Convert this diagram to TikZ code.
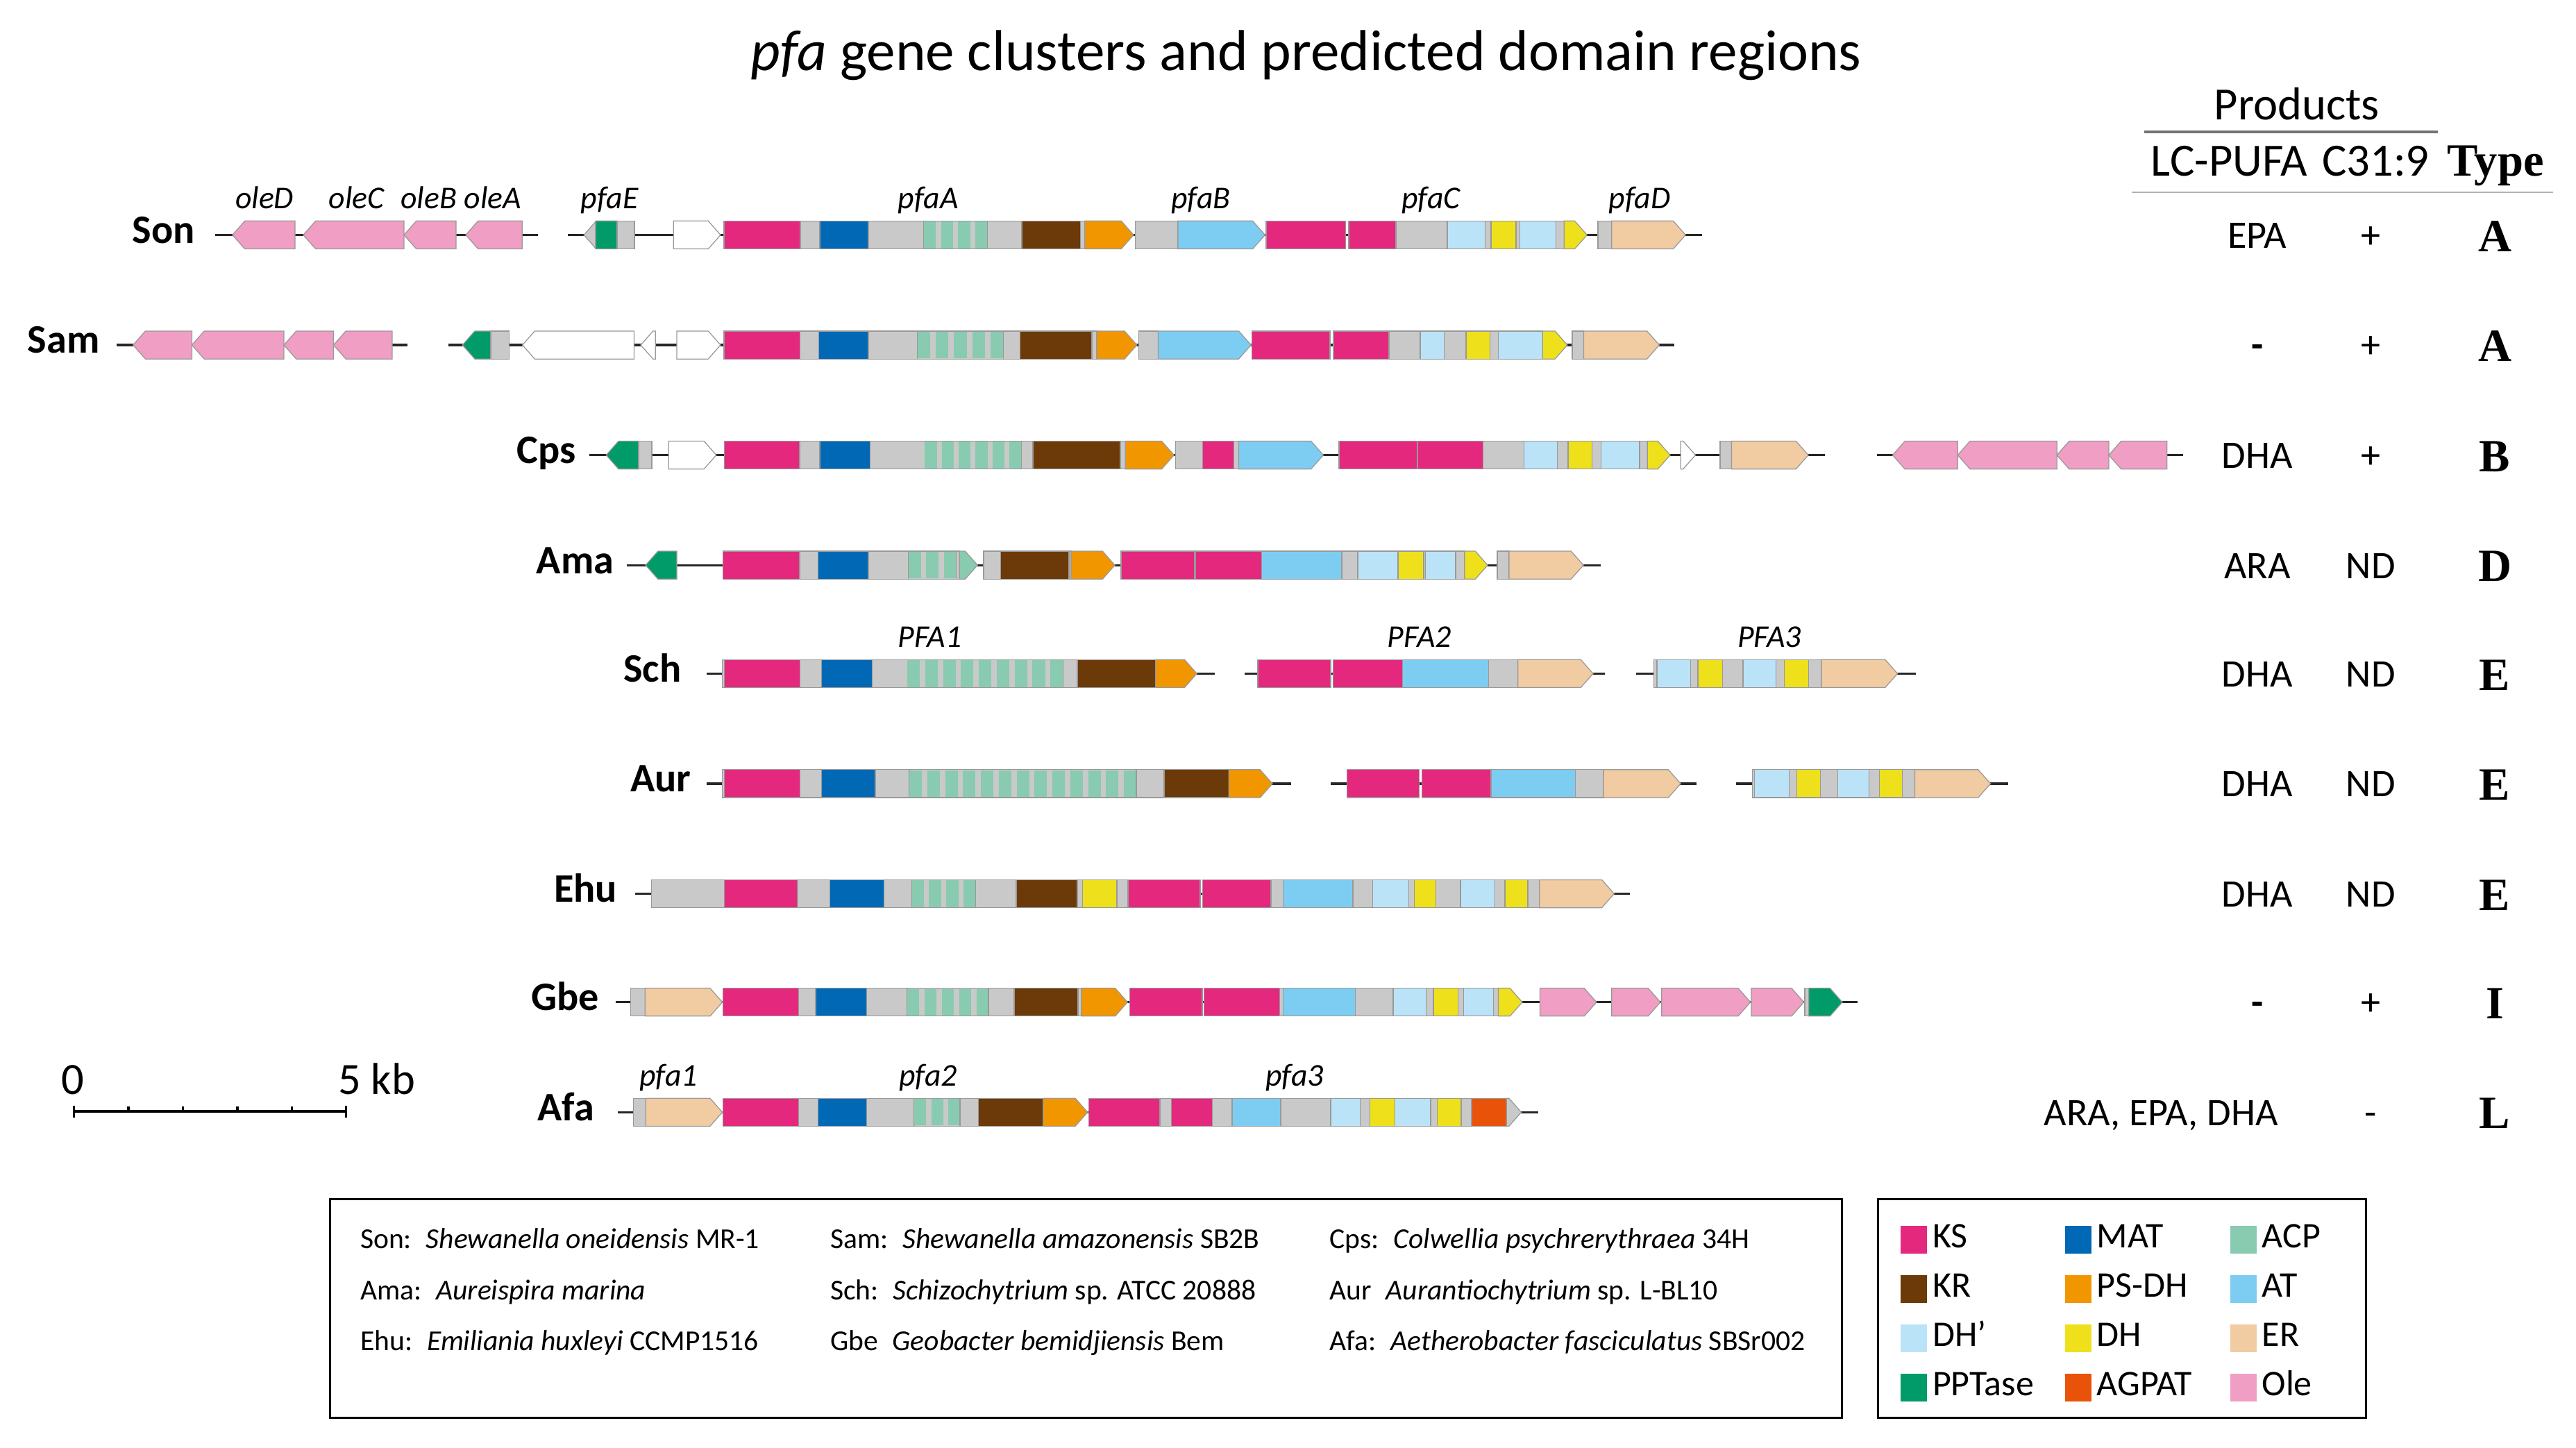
\documentclass[tikz,border=0pt]{standalone}
\usepackage{fontspec}
\setmainfont{Carlito}
\newfontfamily\typefont{Liberation Serif}
\definecolor{cKS}{RGB}{228,40,125}
\definecolor{cMAT}{RGB}{0,104,181}
\definecolor{cACP}{RGB}{136,203,176}
\definecolor{cKR}{RGB}{107,58,8}
\definecolor{cPSDH}{RGB}{242,150,0}
\definecolor{cAT}{RGB}{125,205,243}
\definecolor{cDHp}{RGB}{186,227,247}
\definecolor{cDH}{RGB}{238,225,27}
\definecolor{cER}{RGB}{241,203,162}
\definecolor{cPPT}{RGB}{0,155,105}
\definecolor{cAGPAT}{RGB}{232,83,9}
\definecolor{cOle}{RGB}{240,158,195}
\definecolor{cGrey}{RGB}{200,201,200}
\newcommand{\hh}{8.5}
\newcommand{\tip}{7.5}
\newcommand{\rowy}{0}
% one domain block
\newcommand{\dom}[3]{
	\filldraw[dbox,fill=#3] (#1,\rowy-\hh) rectangle (#2,\rowy+\hh);
	}
% last block of a gene, pointing right
\newcommand{\rtip}[3]{
	\filldraw[dbox,fill=#3] (#1,\rowy-\hh) -- (#2-\tip,\rowy-\hh) -- (#2,\rowy) -- (#2-\tip,\rowy+\hh) -- (#1,\rowy+\hh) -- cycle;
	}
% first block of a gene, pointing left
\newcommand{\ltip}[3]{
	\filldraw[dbox,fill=#3] (#1,\rowy) -- (#1+\tip,\rowy-\hh) -- (#2,\rowy-\hh) -- (#2,\rowy+\hh) -- (#1+\tip,\rowy+\hh) -- cycle;
	}
% ACP repeats
\newcommand{\acp}[3]{
	\filldraw[dbox,fill=cGrey] (#1,\rowy-\hh) rectangle (#2,\rowy+\hh);
	\pgfmathsetmacro{\acpstep}{(#2-#1)/(#3-0.3)}
	\foreach \kk in {1,...,#3}{
		\fill[cACP] ({#1+(\kk-1)*\acpstep},\rowy-\hh+0.4) rectangle ({#1+(\kk-0.3)*\acpstep},\rowy+\hh-0.4);
	}
	}
\newcommand{\bb}[2]{
	\draw[backbone] (#1,\rowy) -- (#2,\rowy);
	}
\newcommand{\key}[5]{
	\fill[#3] (#1-8,#2-8.5) rectangle (#1+8,#2+8.5);
	\node[keytxt] (key-#4) at (#1+11,#2+5) {#5};
	}
\begin{document}
\begin{tikzpicture}[
      x=0.2mm, y=-0.2mm,
      dbox/.style={draw=black!40, line width=0.3pt},
      backbone/.style={draw=black!85, line width=0.8pt},
      org/.style={font=\fontsize{14}{16}\selectfont\bfseries, anchor=base east, inner sep=0pt},
      gname/.style={font=\fontsize{11}{13}\selectfont\itshape, anchor=base, inner sep=0pt},
      val/.style={font=\fontsize{13.5}{16}\selectfont, anchor=base, inner sep=0pt},
      typ/.style={font=\fontsize{16}{18}\selectfont\typefont\bfseries, anchor=base, inner sep=0pt},
      spc/.style={font=\fontsize{10}{12}\selectfont, anchor=base west, inner sep=0pt},
      keytxt/.style={font=\fontsize{12.5}{14}\selectfont, anchor=base west, inner sep=0pt}
    ]
    \useasboundingbox (0,0) rectangle (1568,881);
    %Title
    \node[font=\fontsize{20}{24}\selectfont, anchor=base, inner sep=0pt] (title) at (795,43) {\textit{pfa} gene clusters and predicted domain regions};
    % Son
    \renewcommand{\rowy}{143}
    \bb{131}{327.5} \bb{345.6}{1036}
    \ltip{141.5}{179.6}{cOle} \ltip{184.6}{245.9}{cOle} \ltip{245.9}{277.6}{cOle} \ltip{283.5}{317.8}{cOle}
    \ltip{355.4}{375.6}{cGrey} \dom{362.5}{375.6}{cPPT} \dom{375.6}{386.2}{cGrey}
    \rtip{410}{438.6}{white}
    \dom{440.7}{487.2}{cKS} \dom{487.2}{499}{cGrey} \dom{499}{528.6}{cMAT} \dom{528.6}{562.4}{cGrey} \acp{562.4}{601}{4}
    \dom{601}{622}{cGrey} \dom{622}{657.5}{cKR} \dom{657.5}{660.4}{cGrey} \rtip{660.4}{690}{cPSDH}
    \dom{691}{717}{cGrey} \rtip{717}{770}{cAT}
    \dom{770.7}{818.9}{cKS} \dom{821}{849.7}{cKS} \dom{849.7}{881}{cGrey} \dom{881}{904}{cDHp} \dom{904}{907.6}{cGrey}
    \dom{907.6}{922.8}{cDH} \dom{922.8}{925}{cGrey} \dom{925}{947}{cDHp} \dom{947}{952}{cGrey} \rtip{952}{966}{cDH}
    \dom{972.6}{981}{cGrey} \rtip{981}{1026}{cER}
    \node[org] (son) at (119,148) {Son};
    \node[gname] (son-oleD) at (161,127) {oleD};
    \node[gname] (son-oleC) at (217,127) {oleC};
    \node[gname] (son-oleB) at (261,127) {oleB};
    \node[gname] (son-oleA) at (300,127) {oleA};
    \node[gname] (son-pfaE) at (371,127) {pfaE};
    \node[gname] (son-pfaA) at (565,127) {pfaA};
    \node[gname] (son-pfaB) at (731,127) {pfaB};
    \node[gname] (son-pfaC) at (871,127) {pfaC};
    \node[gname] (son-pfaD) at (998,127) {pfaD};
    % Sam
    \renewcommand{\rowy}{210}
    \bb{71}{248} \bb{273}{1019}
    \ltip{81}{116.8}{cOle} \ltip{116.8}{172.8}{cOle} \ltip{172.8}{203}{cOle} \ltip{203}{238.7}{cOle}
    \ltip{281.5}{298.7}{cPPT} \dom{298.7}{309.8}{cGrey}
    \ltip{318}{386}{white} \ltip{390}{399}{white} \rtip{412}{438.6}{white}
    \dom{440.7}{487}{cKS} \dom{487}{498.5}{cGrey} \dom{498.5}{528.6}{cMAT} \dom{528.6}{558.5}{cGrey} \acp{558.5}{610.6}{5}
    \dom{610.6}{620.8}{cGrey} \dom{620.8}{664.6}{cKR} \dom{664.6}{667.6}{cGrey} \rtip{667.6}{692}{cPSDH}
    \dom{693}{705}{cGrey} \rtip{705}{761.5}{cAT}
    \dom{762}{809.6}{cKS} \dom{811.7}{845.5}{cKS} \dom{845.5}{864.5}{cGrey} \dom{864.5}{879}{cDHp} \dom{879}{892.4}{cGrey}
    \dom{892.4}{906.8}{cDH} \dom{906.8}{912}{cGrey} \dom{912}{939}{cDHp} \rtip{939}{954}{cDH}
    \dom{957}{964}{cGrey} \rtip{964}{1010}{cER}
    \node[org] (sam) at (61,215) {Sam};
    % Cps
    \renewcommand{\rowy}{277}
    \bb{358.7}{1111} \bb{1142.6}{1329}
    \ltip{369}{388.7}{cPPT} \dom{388.7}{396.8}{cGrey}
    \rtip{407}{436}{white}
    \dom{441}{486.7}{cKS} \dom{486.7}{499}{cGrey} \dom{499}{529.5}{cMAT} \dom{529.5}{563}{cGrey} \acp{563}{621.6}{6}
    \dom{621.6}{628.7}{cGrey} \dom{628.7}{682}{cKR} \dom{682}{685}{cGrey} \rtip{685}{714.6}{cPSDH}
    \dom{715.5}{731.9}{cGrey} \dom{731.9}{751}{cKS} \dom{751}{754}{cGrey} \rtip{754}{805.5}{cAT}
    \dom{815}{862.5}{cKS} \dom{863}{902.6}{cKS} \dom{902.6}{927.5}{cGrey} \dom{927.5}{948}{cDHp} \dom{948}{954.5}{cGrey}
    \dom{954.5}{969}{cDH} \dom{969}{974.4}{cGrey} \dom{974.4}{998}{cDHp} \dom{998}{1002.7}{cGrey} \rtip{1002.7}{1016.6}{cDH}
    \rtip{1023}{1032}{white}
    \dom{1047}{1054}{cGrey} \rtip{1054}{1100.7}{cER}
    \ltip{1152}{1191.6}{cOle} \ltip{1191.6}{1252}{cOle} \ltip{1252}{1283.6}{cOle} \ltip{1283.6}{1319}{cOle}
    \node[org] (cps) at (351,282) {Cps};
    % Ama
    \renewcommand{\rowy}{344}
    \bb{381.6}{974.4}
    \ltip{393}{412}{cPPT}
    \dom{440}{486.7}{cKS} \dom{486.7}{497.8}{cGrey} \dom{497.8}{528.6}{cMAT} \dom{528.6}{553}{cGrey} \acp{553}{582}{3}
    \dom{582}{584}{cGrey} \rtip{584}{595}{cACP}
    \dom{598.7}{609}{cGrey} \dom{609}{650.7}{cKR} \dom{650.7}{652}{cGrey} \rtip{652}{678.6}{cPSDH}
    \dom{682.4}{726.8}{cKS} \dom{727.6}{768}{cKS} \dom{768}{816.7}{cAT} \dom{816.7}{826.5}{cGrey} \dom{826.5}{851}{cDHp}
    \dom{851}{866.6}{cDH} \dom{866.6}{867.6}{cGrey} \dom{867.6}{886}{cDHp} \dom{886}{891.5}{cGrey} \rtip{891.5}{905.5}{cDH}
    \dom{911.4}{918.6}{cGrey} \rtip{918.6}{963.8}{cER}
    \node[org] (ama) at (374,349) {Ama};
    % Sch
    \renewcommand{\rowy}{410}
    \bb{430}{739.5} \bb{757.6}{977} \bb{996}{1166}
    \dom{439.5}{441}{cGrey} \dom{441}{487}{cKS} \dom{487}{500}{cGrey} \dom{500}{530.8}{cMAT} \dom{530.8}{552.3}{cGrey} \acp{552.3}{647}{9}
    \dom{647}{655.8}{cGrey} \dom{655.8}{703.5}{cKR} \rtip{703.5}{728.5}{cPSDH}
    \dom{765.6}{810}{cKS} \dom{811.6}{853.7}{cKS} \dom{853.7}{906}{cAT} \dom{906}{924}{cGrey} \rtip{924}{969.7}{cER}
    \dom{1006.6}{1008.6}{cGrey} \dom{1008.6}{1029}{cDHp} \dom{1029}{1033.5}{cGrey} \dom{1033.5}{1048.4}{cDH} \dom{1048.4}{1061}{cGrey}
    \dom{1061}{1081}{cDHp} \dom{1081}{1086}{cGrey} \dom{1086}{1101}{cDH} \dom{1101}{1108.7}{cGrey} \rtip{1108.7}{1155}{cER}
    \node[org] (sch) at (415,415) {Sch};
    \node[gname] (sch-pfa1) at (566,394) {PFA1};
    \node[gname] (sch-pfa2) at (864,394) {PFA2};
    \node[gname] (sch-pfa3) at (1077,394) {PFA3};
    % Aur
    \renewcommand{\rowy}{477}
    \bb{430}{786} \bb{810}{1032.6} \bb{1056.6}{1222.5}
    \dom{439.5}{441}{cGrey} \dom{441}{487}{cKS} \dom{487}{500}{cGrey} \dom{500}{532.8}{cMAT} \dom{532.8}{553.5}{cGrey} \acp{553.5}{691.7}{13}
    \dom{691.7}{708.6}{cGrey} \dom{708.6}{748}{cKR} \rtip{748}{774.5}{cPSDH}
    \dom{820}{863.7}{cKS} \dom{865.6}{907.6}{cKS} \dom{907.6}{959}{cAT} \dom{959}{976}{cGrey} \rtip{976}{1023}{cER}
    \dom{1066.5}{1068}{cGrey} \dom{1068}{1089}{cDHp} \dom{1089}{1093.6}{cGrey} \dom{1093.6}{1108}{cDH} \dom{1108}{1118.5}{cGrey}
    \dom{1118.5}{1137.5}{cDHp} \dom{1137.5}{1144}{cGrey} \dom{1144}{1158}{cDH} \dom{1158}{1165.5}{cGrey} \rtip{1165.5}{1211.6}{cER}
    \node[org] (aur) at (421,482) {Aur};
    % Ehu
    \renewcommand{\rowy}{544}
    \bb{386.4}{992}
    \dom{396.4}{441}{cGrey} \dom{441}{485.5}{cKS} \dom{485.5}{505}{cGrey} \dom{505}{538}{cMAT} \dom{538}{555}{cGrey} \acp{555}{594}{4}
    \dom{594}{618.6}{cGrey} \dom{618.6}{655.8}{cKR} \dom{655.8}{658.8}{cGrey} \dom{658.8}{679.8}{cDH} \dom{679.8}{686.6}{cGrey}
    \dom{686.6}{730.5}{cKS} \dom{732}{773.6}{cKS} \dom{773.6}{781}{cGrey} \dom{781}{823.5}{cAT} \dom{823.5}{835.5}{cGrey}
    \dom{835.5}{857.4}{cDHp} \dom{857.4}{861}{cGrey} \dom{861}{874}{cDH} \dom{874}{889}{cGrey} \dom{889}{910}{cDHp}
    \dom{910}{916}{cGrey} \dom{916}{930}{cDH} \dom{930}{937}{cGrey} \rtip{937}{982.5}{cER}
    \node[org] (ehu) at (376,549) {Ehu};
    % Gbe
    \renewcommand{\rowy}{610}
    \bb{374.6}{1130.7}
    \dom{384}{392.6}{cGrey} \rtip{392.6}{439.7}{cER}
    \dom{440}{486}{cKS} \dom{486}{496.5}{cGrey} \dom{496.5}{527.4}{cMAT} \dom{527.4}{552.2}{cGrey} \acp{552.2}{601.7}{5}
    \dom{601.7}{617.3}{cGrey} \dom{617.3}{656.2}{cKR} \dom{656.2}{658.3}{cGrey} \rtip{658.3}{686.3}{cPSDH}
    \dom{687.5}{731.8}{cKS} \dom{733}{779}{cKS} \dom{779}{781}{cGrey} \dom{781}{825}{cAT} \dom{825}{848}{cGrey}
    \dom{848}{868}{cDHp} \dom{868}{872.5}{cGrey} \dom{872.5}{887.4}{cDH} \dom{887.4}{891}{cGrey} \dom{891}{909}{cDHp}
    \dom{909}{912}{cGrey} \rtip{912}{926.6}{cDH}
    \rtip{937.4}{971.8}{cOle} \rtip{981}{1010.7}{cOle} \rtip{1011.4}{1065.5}{cOle} \rtip{1066}{1098}{cOle}
    \dom{1098.6}{1101}{cGrey} \rtip{1101}{1121.4}{cPPT}
    \node[org] (gbe) at (365,615) {Gbe};
    % Afa
    \renewcommand{\rowy}{677}
    \bb{376}{936.2}
    \dom{385.5}{393}{cGrey} \rtip{393}{439.7}{cER}
    \dom{440}{486}{cKS} \dom{486}{497.8}{cGrey} \dom{497.8}{527.4}{cMAT} \dom{527.4}{556.5}{cGrey} \acp{556.5}{584.4}{3}
    \dom{584.4}{595.6}{cGrey} \dom{595.6}{635}{cKR} \rtip{635}{662}{cPSDH}
    \dom{662.8}{706}{cKS} \dom{706}{713}{cGrey} \dom{713}{737.8}{cKS} \dom{737.8}{750}{cGrey} \dom{750}{779.6}{cAT}
    \dom{779.6}{810}{cGrey} \dom{810}{828}{cDHp} \dom{828}{833.8}{cGrey} \dom{833.8}{848.9}{cDH} \dom{848.9}{870.8}{cDHp}
    \dom{870.8}{874.9}{cGrey} \dom{874.9}{889.4}{cDH} \dom{889.4}{895.7}{cGrey} \dom{895.7}{917}{cAGPAT} \rtip{917}{926}{cGrey}
    \node[org] (afa) at (362,682) {Afa};
    \node[gname] (afa-pfa1) at (407,661) {pfa1};
    \node[gname] (afa-pfa2) at (565,661) {pfa2};
    \node[gname] (afa-pfa3) at (788,661) {pfa3};
    % Scale bar
    \draw[line width=0.8pt] (45,676.5) -- (210.7,676.5);
    \draw[line width=0.8pt] (45,673) -- (45,680.3) (210.7,673) -- (210.7,680.3);
    \foreach \tx in {78.2,111.4,144.5,177.8}
      \draw[line width=0.8pt] (\tx,673.5) -- (\tx,676.5);
    \node[font=\fontsize{15.5}{18}\selectfont, anchor=base, inner sep=0pt] (bar-0) at (44.2,666) {0};
    \node[font=\fontsize{15.5}{18}\selectfont, anchor=base west, inner sep=0pt] (bar-5) at (205.7,666) {5 kb};
    % Products and types
    \node[font=\fontsize{16}{18}\selectfont, anchor=base, inner sep=0pt] (products) at (1398,73) {Products};
    \draw[draw=black!55, line width=1pt] (1305,80.3) -- (1484,80.3);
    \node[font=\fontsize{16}{18}\selectfont, anchor=base, inner sep=0pt] (hd-pufa) at (1357,107) {LC-PUFA};
    \node[font=\fontsize{16}{18}\selectfont, anchor=base, inner sep=0pt] (hd-c31) at (1446,107) {C31:9};
    \node[typ] (hd-type) at (1519,107) {Type};
    \draw[draw=black!30, line width=0.6pt] (1297.6,117) -- (1554,117);
    \foreach \nm/\yy/\pf/\cc/\tp in {son/143/EPA/+/A, sam/210/{\textbf{-}}/+/A, cps/277/DHA/+/B, ama/344/ARA/ND/D, sch/410/DHA/ND/E, aur/477/DHA/ND/E, ehu/544/DHA/ND/E, gbe/610/{\textbf{-}}/+/I}{
      \node[val] (pf-\nm) at (1374,\yy+8) {\pf};
      \node[val] (c31-\nm) at (1443,\yy+8) {\cc};
      \node[typ] (tp-\nm) at (1518.6,\yy+10) {\tp};
    }
    \node[val] (pf-afa) at (1315.4,685) {ARA, EPA, DHA};
    \node[val] (c31-afa) at (1443,685) {-};
    \node[typ] (tp-afa) at (1518.6,687) {L};
    % Organism legend
    \draw[line width=0.7pt] (201,730) rectangle (1121,863);
    \node[spc] (sp-son) at (219,760) {Son:\hspace{0.5em}\textit{Shewanella oneidensis} MR-1};
    \node[spc] (sp-sam) at (505,760) {Sam:\hspace{0.5em}\textit{Shewanella amazonensis} SB2B};
    \node[spc] (sp-cps) at (809,760) {Cps:\hspace{0.5em}\textit{Colwellia psychrerythraea} 34H};
    \node[spc] (sp-ama) at (219,791) {Ama:\hspace{0.5em}\textit{Aureispira marina}};
    \node[spc] (sp-sch) at (505,791) {Sch:\hspace{0.5em}\textit{Schizochytrium} sp. ATCC 20888};
    \node[spc] (sp-aur) at (809,791) {Aur\hspace{0.5em}\textit{Aurantiochytrium} sp. L-BL10};
    \node[spc] (sp-ehu) at (219,822) {Ehu:\hspace{0.5em}\textit{Emiliania huxleyi} CCMP1516};
    \node[spc] (sp-gbe) at (505,822) {Gbe\hspace{0.5em}\textit{Geobacter bemidjiensis} Bem};
    \node[spc] (sp-afa) at (809,822) {Afa:\hspace{0.5em}\textit{Aetherobacter fasciculatus} SBSr002};
    % Domain legend
    \draw[line width=0.7pt] (1143,730) rectangle (1440,863);
    \key{1165}{754.5}{cKS}{ks}{KS}
    \key{1265}{754.5}{cMAT}{mat}{MAT}
    \key{1365.5}{754.5}{cACP}{acp}{ACP}
    \key{1165}{784.5}{cKR}{kr}{KR}
    \key{1265}{784.5}{cPSDH}{psdh}{PS-DH}
    \key{1365.5}{784.5}{cAT}{at}{AT}
    \key{1165}{814.5}{cDHp}{dhp}{DH’}
    \key{1265}{814.5}{cDH}{dh}{DH}
    \key{1365.5}{814.5}{cER}{er}{ER}
    \key{1165}{844.5}{cPPT}{ppt}{PPTase}
    \key{1265}{844.5}{cAGPAT}{agpat}{AGPAT}
    \key{1365.5}{844.5}{cOle}{ole}{Ole}
\end{tikzpicture}
\end{document}
